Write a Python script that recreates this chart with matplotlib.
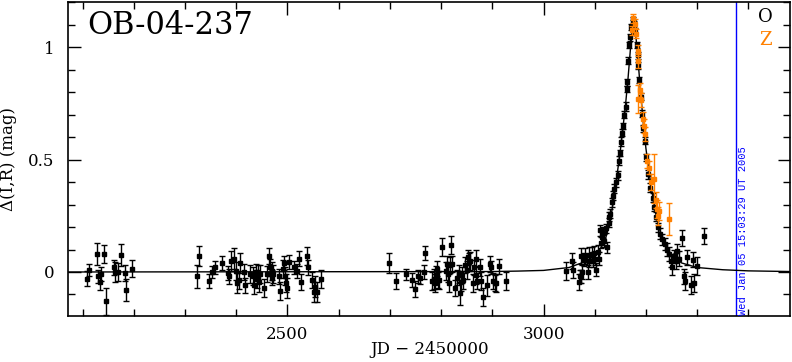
import matplotlib
matplotlib.use('Agg')
import matplotlib.pyplot as plt
from matplotlib.ticker import MultipleLocator

plt.rcParams['font.family'] = 'DejaVu Serif'

# OGLE points (O), by season
s1_jd = [2108, 2113, 2128, 2130, 2133, 2136, 2141, 2146, 2161, 2163, 2169, 2175, 2182, 2185, 2196]
s1_dm = [-0.03, 0.01, 0.08, -0.02, -0.045, -0.01, 0.08, -0.13, 0.02, 0.0, 0.0, 0.075, -0.005, -0.08, 0.015]
s1_err = [0.033, 0.026, 0.051, 0.03, 0.033, 0.03, 0.04, 0.06, 0.033, 0.044, 0.04, 0.048, 0.036, 0.048, 0.037]

s2_jd = [2323, 2327, 2347, 2352, 2358, 2372, 2383, 2385, 2390, 2396,
         2400, 2402, 2405, 2408, 2416, 2418, 2427, 2432, 2434, 2438,
         2440, 2442, 2444, 2447, 2455, 2460, 2464, 2465, 2469, 2470,
         2472, 2483, 2486, 2492, 2494, 2496, 2498, 2500, 2503, 2512,
         2518, 2522, 2527, 2538, 2541, 2548, 2551, 2554, 2558, 2566]
s2_dm = [-0.02, 0.07, -0.04, 0.0, 0.02, 0.04, -0.005, -0.02, 0.05, 0.06,
         0.005, -0.05, -0.035, 0.04, 0.0, -0.06, -0.01, -0.02, -0.06, 0.0,
         -0.03, -0.01, -0.045, -0.01, -0.07, -0.01, 0.07, 0.02, 0.005, -0.025,
         -0.01, -0.02, -0.085, 0.015, 0.04, -0.02, -0.05, -0.07, 0.045, 0.02,
         0.005, 0.06, -0.045, 0.07, 0.02, -0.035, -0.09, -0.065, -0.09, -0.03]
s2_err = [0.05, 0.045, 0.03, 0.025, 0.03, 0.03, 0.03, 0.035, 0.045, 0.045,
          0.04, 0.045, 0.04, 0.045, 0.035, 0.035, 0.04, 0.04, 0.04, 0.035,
          0.04, 0.04, 0.045, 0.04, 0.04, 0.035, 0.035, 0.04, 0.04, 0.035,
          0.04, 0.035, 0.04, 0.04, 0.03, 0.04, 0.04, 0.045, 0.03, 0.03,
          0.03, 0.035, 0.035, 0.04, 0.035, 0.035, 0.045, 0.045, 0.045, 0.04]

s3_jd = [2699, 2711, 2731, 2744, 2750, 2755, 2759, 2766, 2769, 2783,
         2786, 2788, 2790, 2792, 2794, 2796, 2802, 2809, 2811, 2814,
         2815, 2817, 2820, 2822, 2827, 2832, 2835, 2837, 2839, 2841,
         2843, 2846, 2850, 2852, 2854, 2856, 2862, 2864, 2868, 2869,
         2870, 2876, 2878, 2882, 2889, 2895, 2898, 2902, 2905, 2908,
         2913, 2926]
s3_dm = [0.04, -0.04, -0.01, -0.035, -0.075, -0.02, -0.025, 0.0, 0.085, -0.04,
         -0.03, -0.05, -0.015, 0.015, -0.035, -0.035, 0.11, 0.005, 0.035, -0.01,
         -0.05, 0.03, 0.12, 0.035, -0.07, -0.025, -0.01, -0.095, -0.045, -0.015,
         -0.035, 0.03, 0.01, 0.065, 0.045, 0.05, -0.05, 0.02, 0.06, -0.015,
         -0.04, 0.02, -0.04, -0.11, -0.06, 0.035, 0.02, -0.04, -0.05, -0.05,
         0.025, -0.04]
s3_err = [0.045, 0.035, 0.025, 0.03, 0.035, 0.03, 0.03, 0.03, 0.03, 0.04,
          0.045, 0.04, 0.04, 0.035, 0.035, 0.04, 0.04, 0.04, 0.035, 0.035,
          0.04, 0.035, 0.04, 0.035, 0.035, 0.035, 0.04, 0.05, 0.04, 0.035,
          0.04, 0.035, 0.04, 0.035, 0.04, 0.04, 0.04, 0.035, 0.04, 0.04,
          0.035, 0.04, 0.04, 0.04, 0.045, 0.035, 0.03, 0.035, 0.035, 0.04,
          0.035, 0.04]

s4_jd = [3043, 3056, 3058, 3069, 3071, 3073, 3074, 3075, 3080, 3082,
         3086, 3088, 3089, 3095, 3096, 3099, 3101, 3103, 3106, 3108,
         3110, 3112, 3114, 3117, 3119, 3122, 3124, 3127, 3128, 3130,
         3134, 3136, 3138, 3142, 3145, 3147, 3150, 3151, 3153, 3155,
         3157, 3161, 3163, 3164, 3165, 3167, 3169, 3171, 3174, 3175,
         3177, 3179, 3182, 3184, 3185, 3187, 3190, 3193, 3195, 3198,
         3201, 3205, 3207, 3213, 3216, 3219, 3224, 3228, 3232, 3237,
         3242, 3246, 3248, 3251, 3255, 3258, 3261, 3265, 3270, 3274,
         3276, 3281, 3288, 3292, 3294, 3299, 3313]
s4_dm = [0.005, 0.05, 0.01, -0.045, -0.02, -0.02, 0.07, 0.0, 0.055, 0.07,
         0.0, 0.075, 0.05, 0.08, 0.05, 0.085, 0.06, 0.01, 0.09, 0.06,
         0.185, 0.13, 0.155, 0.175, 0.14, 0.195, 0.11, 0.22, 0.245, 0.26,
         0.31, 0.34, 0.37, 0.40, 0.43, 0.495, 0.53, 0.58, 0.62, 0.65,
         0.70, 0.735, 0.815, 0.845, 0.94, 1.01, 1.045, 1.09, 1.105, 1.12,
         1.10, 1.07, 1.01, 0.965, 0.92, 0.855, 0.78, 0.705, 0.64, 0.585,
         0.51, 0.435, 0.375, 0.33, 0.29, 0.245, 0.20, 0.17, 0.145, 0.125,
         0.10, 0.08, 0.05, 0.02, 0.07, 0.05, 0.095, 0.06, 0.15, -0.02,
         -0.04, 0.065, -0.06, 0.055, -0.05, 0.025, 0.16]
s4_err = [0.04, 0.035, 0.035, 0.035, 0.03, 0.03, 0.035, 0.03, 0.03, 0.035,
          0.03, 0.035, 0.03, 0.03, 0.03, 0.03, 0.03, 0.03, 0.03, 0.03,
          0.025, 0.025, 0.025, 0.025, 0.03, 0.02, 0.025, 0.02, 0.02, 0.02,
          0.02, 0.02, 0.02, 0.02, 0.02, 0.02, 0.015, 0.02, 0.015, 0.015,
          0.015, 0.02, 0.015, 0.015, 0.015, 0.015, 0.015, 0.015, 0.015, 0.015,
          0.015, 0.015, 0.015, 0.015, 0.015, 0.015, 0.015, 0.015, 0.015, 0.015,
          0.015, 0.02, 0.02, 0.02, 0.02, 0.02, 0.02, 0.025, 0.025, 0.025,
          0.03, 0.03, 0.03, 0.035, 0.03, 0.035, 0.03, 0.035, 0.035, 0.035,
          0.04, 0.035, 0.04, 0.035, 0.04, 0.04, 0.035]

o_jd = s1_jd + s2_jd + s3_jd + s4_jd
o_dm = s1_dm + s2_dm + s3_dm + s4_dm
o_err = s1_err + s2_err + s3_err + s4_err

# second observatory (Z)
z_jd = [3172, 3175, 3178, 3180, 3184, 3185, 3185, 3188, 3190, 3194, 3196,
        3198, 3203, 3206, 3209, 3216, 3219, 3222, 3224, 3226, 3245]
z_dm = [1.075, 1.13, 1.105, 1.06, 0.985, 0.94, 0.77, 0.81, 0.765, 0.68, 0.65,
        0.615, 0.495, 0.465, 0.40, 0.415, 0.32, 0.28, 0.25, 0.27, 0.235]
z_err = [0.02, 0.02, 0.02, 0.02, 0.025, 0.03, 0.063, 0.03, 0.03, 0.03, 0.03,
         0.03, 0.03, 0.03, 0.035, 0.11, 0.035, 0.04, 0.04, 0.04, 0.07]

# model curve
model_jd = [2072, 2900, 2950, 3000, 3050, 3080, 3100, 3110, 3120, 3130,
            3140, 3150, 3160, 3165, 3170, 3175, 3180, 3185, 3190, 3195,
            3200, 3210, 3220, 3230, 3240, 3250, 3270, 3300, 3350, 3400, 3482]
model_dm = [0.0, 0.002, 0.004, 0.007, 0.02, 0.045, 0.07, 0.10, 0.14, 0.22,
            0.37, 0.54, 0.74, 0.86, 1.0, 1.12, 1.06, 0.93, 0.79, 0.66,
            0.55, 0.38, 0.25, 0.16, 0.11, 0.075, 0.04, 0.02, 0.01, 0.005, 0.002]

now_jd = 3376
now_text = 'Wed Jan 05 15:03:29 UT 2005'
orange = '#ff8000'

fig = plt.figure(figsize=(7.92, 3.62), dpi=100)
ax = fig.add_axes([0.0862, 0.127, 0.9117, 0.8683])

ax.plot(model_jd, model_dm, color='black', linewidth=1.0, zorder=2)
ax.errorbar(o_jd, o_dm, yerr=o_err, fmt='s', color='black', markersize=2.2,
            elinewidth=1.0, capsize=2, capthick=1.0, zorder=3)
ax.errorbar(z_jd, z_dm, yerr=z_err, fmt='s', color=orange, markersize=2.2,
            elinewidth=1.0, capsize=2, capthick=1.0, zorder=4)

ax.axvline(now_jd, color='blue', linewidth=1.0, zorder=1)
ax.text(now_jd + 13, -0.19, now_text, rotation=90, ha='center', va='bottom',
        color='blue', fontsize=7.5, family='Liberation Mono')

ax.text(0.026, 0.923, 'OB-04-237', transform=ax.transAxes, fontsize=22,
        ha='left', va='center')
ax.text(0.965, 0.951, 'O', transform=ax.transAxes, fontsize=13,
        ha='center', va='center', color='black')
ax.text(0.965, 0.878, 'Z', transform=ax.transAxes, fontsize=13,
        ha='center', va='center', color=orange)

ax.set_xlim(2072, 3482)
ax.set_ylim(-0.196, 1.203)
ax.xaxis.set_major_locator(MultipleLocator(500))
ax.xaxis.set_minor_locator(MultipleLocator(100))
ax.yaxis.set_major_locator(MultipleLocator(0.5))
ax.yaxis.set_minor_locator(MultipleLocator(0.1))
ax.yaxis.set_major_formatter(matplotlib.ticker.FuncFormatter(lambda v, p: '%g' % v))

ax.tick_params(which='both', direction='in', top=True, right=True, width=1.0,
               labelsize=12)
ax.tick_params(which='major', length=9)
ax.tick_params(which='minor', length=5)
ax.tick_params(axis='x', pad=7)
ax.tick_params(axis='y', pad=10)
for spine in ax.spines.values():
    spine.set_linewidth(1.2)

ax.set_xlabel('JD − 2450000', fontsize=12, labelpad=-1)
ax.set_ylabel('Δ(I,R) (mag)', fontsize=12, labelpad=8)

plt.savefig('out.png', dpi=100)
